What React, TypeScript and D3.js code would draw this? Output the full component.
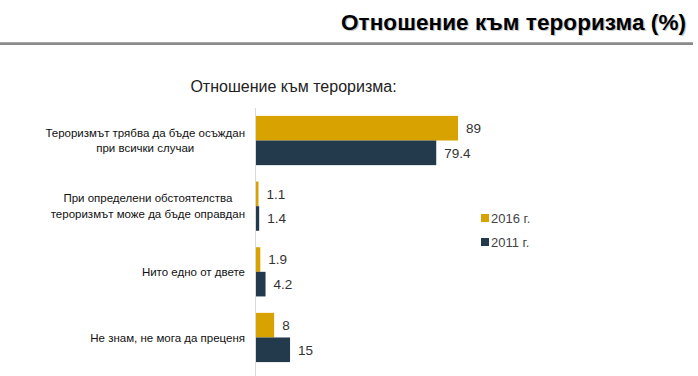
import React from "react";
import * as d3 from "d3";

const title = "Отношение към тероризма (%)";
const subtitle = "Отношение към тероризма:";
const categories: string[][] = [
  ["Тероризмът трябва да бъде осъждан", "при всички случаи"],
  ["При определени обстоятелства", "тероризмът може да бъде оправдан"],
  ["Нито едно от двете"],
  ["Не знам, не мога да преценя"],
];
const seriesNames = ["2016 г.", "2011 г."];
const values2016 = [89, 1.1, 1.9, 8];
const values2011 = [79.4, 1.4, 4.2, 15];
const colors = ["#D8A200", "#233A4D"];

const W = 698;
const H = 376;
const labelFont = "11.5px 'Liberation Sans', Arial, sans-serif";

function measure(text: string, font: string): number {
  const c = document.createElement("canvas").getContext("2d");
  if (!c) return text.length * 6;
  c.font = font;
  return c.measureText(text).width;
}

export default function App() {
  const x = d3.scaleLinear().domain([0, 100]).range([256, 483]);
  const y = d3
    .scaleBand<number>()
    .domain(d3.range(categories.length))
    .range([107.7, 370.3])
    .paddingInner(0.25)
    .paddingOuter(0.125);
  const sub = d3
    .scaleBand<number>()
    .domain([0, 1])
    .range([0, y.bandwidth()]);
  const series = [values2016, values2011];
  const labelRight = 245;
  const lineH = 15.5;

  return (
    <svg
      width={W}
      height={H}
      style={{ position: "absolute", left: 0, top: 0, background: "#fff" }}
    >
      {/* header */}
      <text
        x={686}
        y={30}
        textAnchor="end"
        fontFamily="'Liberation Sans', Arial, sans-serif"
        fontWeight="bold"
        fontSize={22.5}
        textLength={345}
        fill="#c8c8c8"
        transform="translate(1.2,1.2)"
      >
        {title}
      </text>
      <text
        x={686}
        y={30}
        textAnchor="end"
        fontFamily="'Liberation Sans', Arial, sans-serif"
        fontWeight="bold"
        fontSize={22.5}
        textLength={345}
        fill="#000"
      >
        {title}
      </text>
      <rect x={0} y={42} width={693} height={3} fill="#8a8a8a" />
      <rect x={0} y={42} width={693} height={1} fill="#a8a8a8" />

      <text
        x={293.5}
        y={92}
        textAnchor="middle"
        fontFamily="'Liberation Sans', Arial, sans-serif"
        fontSize={16}
        fill="#222"
      >
        {subtitle}
      </text>

      {/* axis line */}
      <line x1={255.5} x2={255.5} y1={108} y2={376} stroke="#d9d9d9" strokeWidth={1} />

      {categories.map((lines, i) => {
        const y0 = (y(i) ?? 0) + y.bandwidth() / 2;
        const maxW = d3.max(lines, (l) => measure(l, labelFont)) ?? 0;
        const cx = labelRight - maxW / 2;
        return (
          <g key={i}>
            {lines.map((l, j) => (
              <text
                key={j}
                x={cx}
                y={y0 + (j - (lines.length - 1) / 2) * lineH}
                dy="0.35em"
                textAnchor="middle"
                fontFamily="'Liberation Sans', Arial, sans-serif"
                fontSize={11.5}
                fill="#111"
              >
                {l}
              </text>
            ))}
            {series.map((vals, s) => {
              const by = (y(i) ?? 0) + (sub(s) ?? 0);
              const bh = sub.bandwidth();
              return (
                <g key={s}>
                  <rect
                    x={x(0)}
                    y={by}
                    width={x(vals[i]) - x(0)}
                    height={bh}
                    fill={colors[s]}
                  />
                  <text
                    x={x(vals[i]) + 8}
                    y={by + bh / 2}
                    dy="0.35em"
                    fontFamily="'Liberation Sans', Arial, sans-serif"
                    fontSize={13.5}
                    fill="#333"
                  >
                    {vals[i]}
                  </text>
                </g>
              );
            })}
          </g>
        );
      })}

      {/* legend */}
      {seriesNames.map((n, s) => (
        <g key={n} transform={`translate(481, ${218 + s * 24})`}>
          <rect x={0} y={-4} width={8} height={8} fill={colors[s]} />
          <text
            x={10}
            y={0}
            dy="0.35em"
            fontFamily="'Liberation Sans', Arial, sans-serif"
            fontSize={13}
            fill="#444"
          >
            {n}
          </text>
        </g>
      ))}
    </svg>
  );
}
